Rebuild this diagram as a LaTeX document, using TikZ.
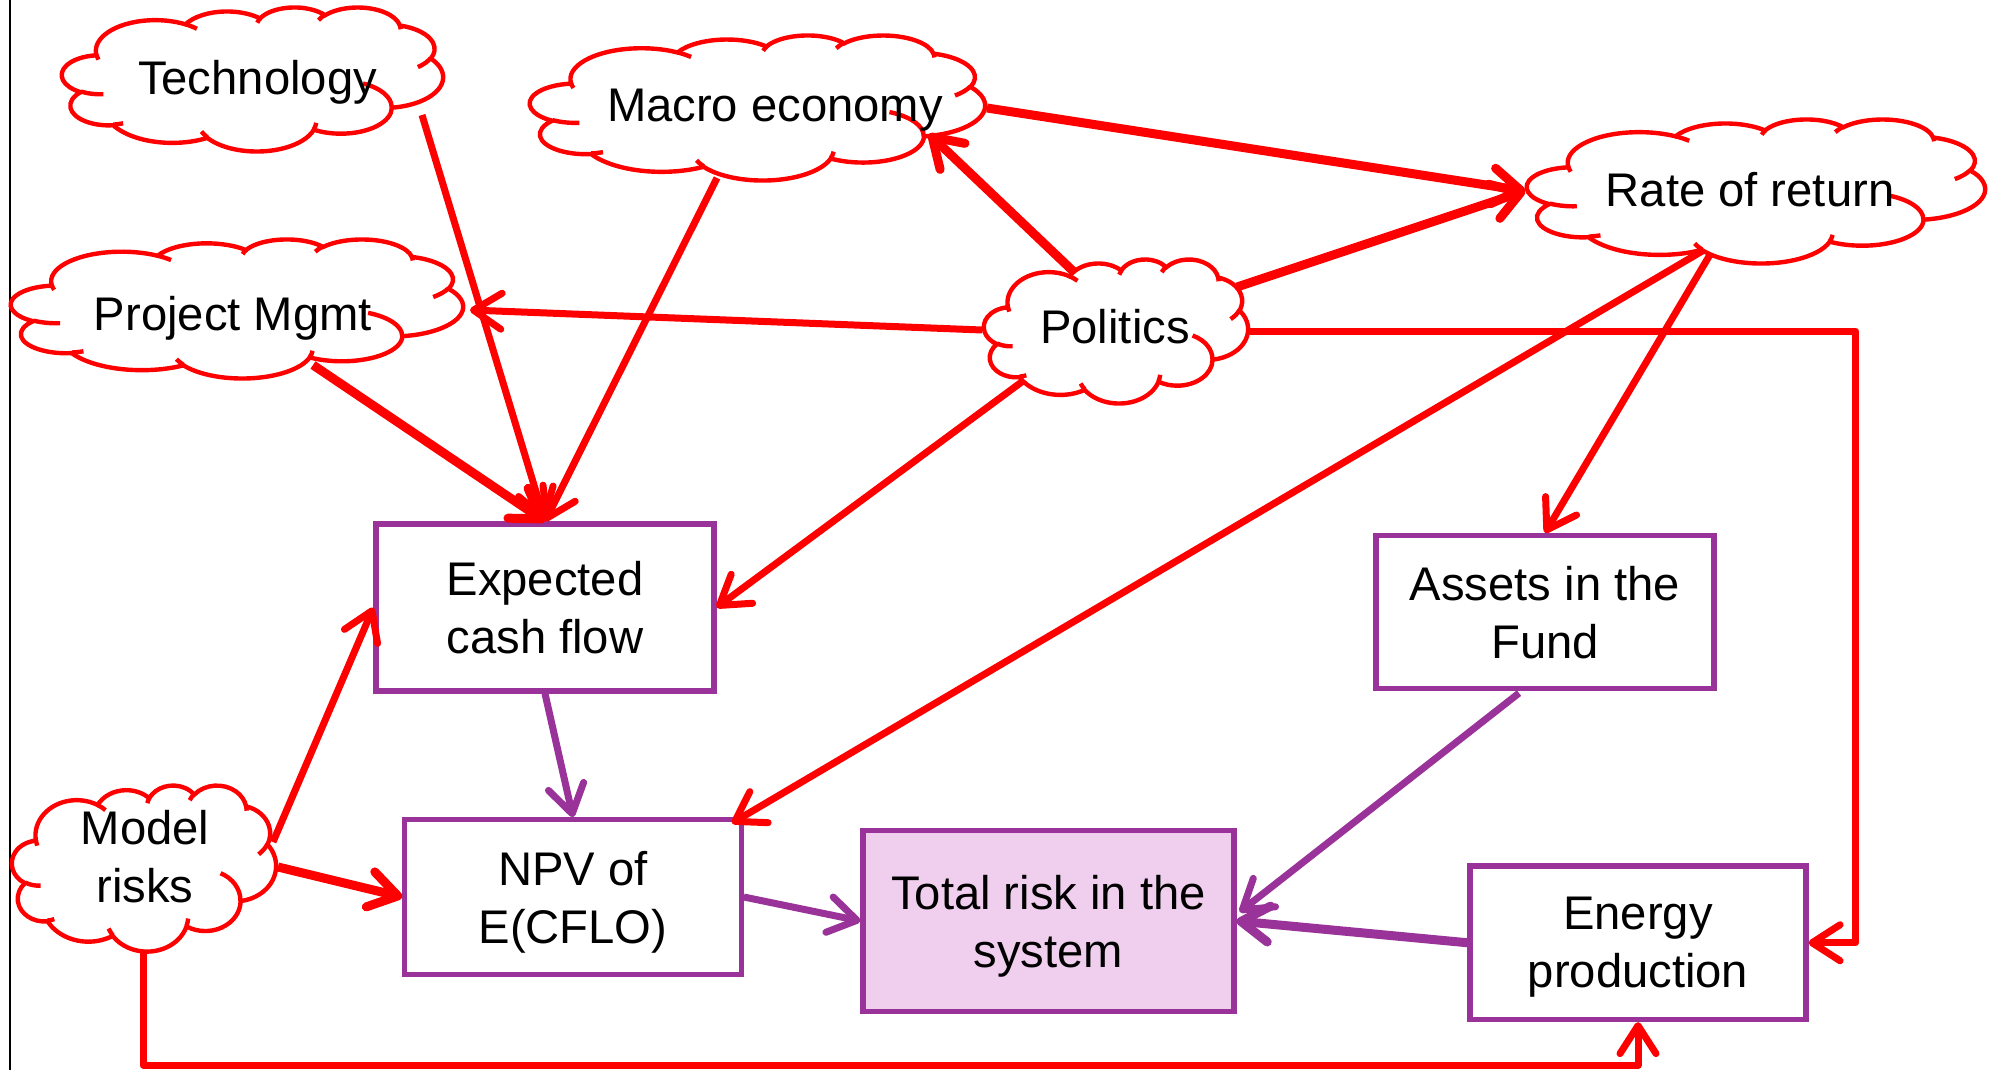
\documentclass[tikz,border=0pt]{standalone}
\usepackage{fontspec}
\setmainfont{Liberation Sans}
\usetikzlibrary{arrows.meta}
\definecolor{myred}{RGB}{255,0,0}
\definecolor{mypurple}{RGB}{153,51,153}
\definecolor{mypink}{RGB}{240,206,238}
% parametric angles for the PowerPoint cloud outline
\newcommand\mkarc[5]{%
  \pgfmathsetmacro\tmpS{atan2(#2*sin(#4),#3*cos(#4))}%
  \pgfmathsetmacro\tmpE{atan2(#2*sin(#4+#5),#3*cos(#4+#5))}%
  \pgfmathsetmacro\tmpD{Mod(\tmpE-\tmpS,360)}%
  \expandafter\xdef\csname qs#1\endcsname{\tmpS}%
  \expandafter\xdef\csname qd#1\endcsname{\tmpD}}
\mkarc{a}{6753}{9190}{-190.48748}{123.78053}
\mkarc{b}{5333}{7267}{-144.10238}{89.94523}
\mkarc{c}{4365}{5945}{-145.80792}{99.72302}
\mkarc{d}{4857}{6595}{-130.98607}{117.24173}
\mkarc{e}{5333}{7273}{-78.70888}{109.02692}
\mkarc{f}{6775}{9220}{-46.26725}{130.26900}
\mkarc{g}{5785}{7867}{0.62502}{114.03333}
\mkarc{h}{6752}{9215}{22.45160}{115.17255}
\mkarc{i}{7720}{10543}{66.24263}{75.71102}
\mkarc{j}{4360}{5918}{-274.94208}{146.73557}
\mkarc{k}{4345}{5945}{-246.82850}{152.51885}
\mkarc{l}{4345}{5945}{86.74200}{26.42950}
\mkarc{m}{4360}{5918}{73.61047}{11.44747}
\mkarc{n}{6752}{9215}{137.62415}{14.08110}
\mkarc{o}{6752}{9215}{6.45327}{15.99835}
\mkarc{p}{5785}{7867}{-70.29235}{70.91737}
\mkarc{q}{5333}{7273}{30.31803}{27.75150}
\mkarc{r}{4857}{6595}{-13.74433}{14.85890}
\mkarc{s}{4857}{6595}{-149.18145}{18.19537}
\mkarc{t}{4365}{5945}{-163.49427}{17.68635}
\mkarc{u}{6753}{9190}{-66.70695}{12.31935}
\mkarc{v}{6753}{9190}{157.65435}{11.85817}
\newcommand\pptcloud[4]{%
\begin{scope}[shift={(#1,#2)},xscale=#3/43.2,yscale=#4/43.2]
\filldraw[cloudline,fill=white] (3.900,14.370)
 arc[x radius=6.753,y radius=9.190,start angle=\qsa,delta angle=\qda]
 arc[x radius=5.333,y radius=7.267,start angle=\qsb,delta angle=\qdb]
 arc[x radius=4.365,y radius=5.945,start angle=\qsc,delta angle=\qdc]
 arc[x radius=4.857,y radius=6.595,start angle=\qsd,delta angle=\qdd]
 arc[x radius=5.333,y radius=7.273,start angle=\qse,delta angle=\qde]
 arc[x radius=6.775,y radius=9.220,start angle=\qsf,delta angle=\qdf]
 arc[x radius=5.785,y radius=7.867,start angle=\qsg,delta angle=\qdg]
 arc[x radius=6.752,y radius=9.215,start angle=\qsh,delta angle=\qdh]
 arc[x radius=7.720,y radius=10.543,start angle=\qsi,delta angle=\qdi]
 arc[x radius=4.360,y radius=5.918,start angle=\qsj,delta angle=\qdj]
 arc[x radius=4.345,y radius=5.945,start angle=\qsk,delta angle=\qdk] -- cycle;
\draw[cloudline]
 (4.693,26.177) arc[x radius=4.345,y radius=5.945,start angle=\qsl,delta angle=\qdl]
 (6.928,34.899) arc[x radius=4.360,y radius=5.918,start angle=\qsm,delta angle=\qdm]
 (16.478,39.090) arc[x radius=6.752,y radius=9.215,start angle=\qsn,delta angle=\qdn]
 (28.827,34.751) arc[x radius=6.752,y radius=9.215,start angle=\qso,delta angle=\qdo]
 (34.129,22.954) arc[x radius=5.785,y radius=7.867,start angle=\qsp,delta angle=\qdp]
 (41.798,15.354) arc[x radius=5.333,y radius=7.273,start angle=\qsq,delta angle=\qdq]
 (38.324,5.426) arc[x radius=4.857,y radius=6.595,start angle=\qsr,delta angle=\qdr]
 (29.078,3.952) arc[x radius=4.857,y radius=6.595,start angle=\qss,delta angle=\qds]
 (22.141,4.720) arc[x radius=4.365,y radius=5.945,start angle=\qst,delta angle=\qdt]
 (14.000,5.192) arc[x radius=6.753,y radius=9.190,start angle=\qsu,delta angle=\qdu]
 (4.127,15.789) arc[x radius=6.753,y radius=9.190,start angle=\qsv,delta angle=\qdv];
\end{scope}}
\tikzset{
  cloudline/.style={draw=myred,line width=2.2pt},
  txt/.style={font=\fontsize{23.6}{29}\selectfont,align=center,inner sep=0pt},
  cloudtext/.style={txt,anchor=base},
  boxnode/.style={txt,draw=mypurple,line width=2.6pt,fill=white},
  redarr/.style={draw=myred,line width=3.5pt,line join=round,-{Straight Barb[length=14pt,width=18pt,round]}},
  purarr/.style={draw=mypurple,line width=3.5pt,-{Straight Barb[length=14pt,width=18pt,round]}},
  thick4/.style={line width=4.5pt}
}
\begin{document}
\begin{tikzpicture}[x=0.5pt,y=-0.5pt]
\useasboundingbox (0,0) rectangle (1993,1070);
\fill[white] (0,0) rectangle (1993,1070);
\draw[line width=1pt,black] (10,0) -- (10,1070);
% clouds
\pptcloud{62}{7}{381}{144}
\pptcloud{11}{239}{452}{139}
\pptcloud{530}{35}{455}{145}
\pptcloud{984}{259}{264}{144}
\pptcloud{1527}{119}{458}{144}
\pptcloud{12}{785}{264}{166}
\node[cloudtext] (tech) at (257.5,95) {Technology};
\node[cloudtext] (pm) at (233,330) {Project Mgmt};
\node[cloudtext] (macro) at (775,122) {Macro economy};
\node[cloudtext] (pol) at (1115,343) {Politics};
\node[cloudtext] (ror) at (1750,206) {Rate of return};
\node[txt] (model) at (145,856) {Model\\\smash{risks}};
% boxes
\node[boxnode,minimum width=169pt,minimum height=83.5pt] (ecf) at (545,607.5) {Expected\\\smash{cash flow}};
\node[boxnode,minimum width=168.25pt,minimum height=77.25pt] (npv) at (573,897) {NPV of\\\smash{E(CFLO)}};
\node[boxnode,fill=mypink,minimum width=185.5pt,minimum height=90.25pt] (total) at (1048.5,921) {Total risk in the\\\smash{system}};
\node[boxnode,minimum width=168pt,minimum height=76.75pt] (energy) at (1638,942.75) {Energy\\\smash{production}};
\node[boxnode,minimum width=169pt,minimum height=76.5pt] (assets) at (1545,612) {Assets in the\\\smash{Fund}};
% red connectors
\draw[redarr] ([shift={(164.5,20)}]tech.base) -- (ecf.north);
\draw[redarr,thick4] ([shift={(80,35)}]pm.base) -- (ecf.north);
\draw[redarr] ([shift={(-58,56)}]macro.base) -- (ecf.north);
\draw[redarr,thick4] ([shift={(-41,-71)}]pol.base) -- ([shift={(154,12)}]macro.base);
\draw[redarr] ([shift={(-133,-13)}]pol.base) -- ([shift={(237,-20)}]pm.base);
\draw[redarr,thick4] ([shift={(212,-14)}]macro.base) -- ([shift={(-225,-15)}]ror.base);
\draw[redarr,thick4] ([shift={(122,-56)}]pol.base) -- ([shift={(-225,-15)}]ror.base);
\draw[redarr] ([shift={(135,-12)}]pol.base) -| ([shift={(47,0)}]energy.east) -- (energy.east);
\draw[redarr] ([shift={(-92,38)}]pol.base) -- (ecf.east);
\draw[redarr] ([shift={(-46,44)}]ror.base) -- ([shift={(-12,6)}]npv.north east);
\draw[redarr] ([shift={(-39,47)}]ror.base) -- (assets.north);
\draw[redarr] ([shift={(128,-14)}]model.center) -- (ecf.west);
\draw[redarr,thick4] ([shift={(133,11)}]model.center) -- (npv.west);
\draw[redarr] ([shift={(-2,97)}]model.center) -- ++(0,112) -| (energy.south);
% purple connectors
\draw[purarr] (ecf.south) -- (npv.north);
\draw[purarr] (npv.east) -- (total.west);
\draw[purarr] ([shift={(-26,2)}]assets.south) -- ([shift={(3,-9)}]total.east);
\draw[purarr,thick4] (energy.west) -- (total.east);
\end{tikzpicture}
\end{document}
